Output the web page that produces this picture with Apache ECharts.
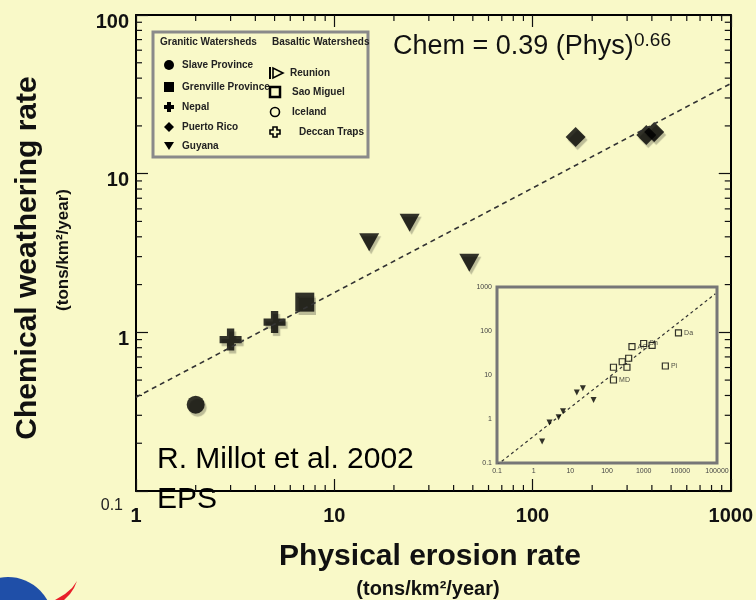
<!DOCTYPE html>
<html><head><meta charset="utf-8">
<script src="https://cdn.jsdelivr.net/npm/echarts@6/dist/echarts.min.js"></script>
<style>html,body{margin:0;padding:0;background:#F9F9C8}#c{width:756px;height:600px}</style>
</head><body><div id="c"></div>
<script>
const BG = '#F9F9C8';
const FONT = '"Liberation Sans", Arial, Helvetica, sans-serif';

// ---- main panel data: [physical erosion, chemical weathering] (tons/km2/yr)
const slaveProvince     = [[2.0, 0.35]];
const grenvilleProvince = [[7.1, 1.55]];
const nepal             = [[3.0, 0.90], [5.0, 1.16]];
const puertoRico        = [[165, 17.0], [375, 17.5], [411, 18.3]];
const guyana            = [[15, 3.7], [24, 4.9], [48, 2.75]];
const fitLine           = [[1, 0.39], [1000, 37]];

// ---- inset data
const insetGranitic = [[1.7, 0.31], [2.7, 0.83], [4.8, 1.1], [6.3, 1.5], [15, 4.0], [22, 5.0], [43, 2.7]];
const insetBasaltic = [[150, 7.7], [150, 15], [260, 20], [350, 15], [390, 24], [480, 44], [1000, 52], [1700, 47], [3900, 16], [8900, 91]];
const insetLabels   = ['MD', '', '', '', '', 'AG', 'Sh', '', 'Pi', 'Da'];
const insetFit      = [[0.1, 0.09], [90000, 700]];

// ---- axis ranges / tick decades
const xRange = [1, 1000];
const yRange = [0.1, 100];
const xDecades = [1, 10, 100];
const yDecades = [0.1, 1, 10];
const insetXRange = [0.1, 100000];
const insetYRange = [0.1, 1000];

// ---- legend entries
const graniticNames = ['Slave Province', 'Grenville Province', 'Nepal', 'Puerto Rico', 'Guyana'];
const basalticNames = ['Reunion', 'Sao Miguel', 'Iceland', 'Deccan Traps'];

function minorVals(decades) {
  const out = [];
  decades.forEach(d => { for (let m = 2; m <= 9; m++) out.push(+(d * m).toPrecision(6)); });
  return out;
}
const minorX = minorVals(xDecades).map(v => [v, 1]);
const minorY = minorVals(yDecades).map(v => [1, v]);
const fmt = v => String(+(+v).toPrecision(6));

const tickStyle = { stroke: '#111', lineWidth: 1.2 };
function minorTickX(params, api) {
  const cs = params.coordSys;
  const px = api.coord([api.value(0), api.value(1)])[0];
  const b = cs.y + cs.height;
  return { type: 'group', children: [
    { type: 'line', shape: { x1: px, y1: b, x2: px, y2: b - 6 }, style: tickStyle },
    { type: 'line', shape: { x1: px, y1: cs.y, x2: px, y2: cs.y + 6 }, style: tickStyle }
  ]};
}
function minorTickY(params, api) {
  const cs = params.coordSys;
  const py = api.coord([api.value(0), api.value(1)])[1];
  const r = cs.x + cs.width;
  return { type: 'group', children: [
    { type: 'line', shape: { x1: cs.x, y1: py, x2: cs.x + 6, y2: py }, style: tickStyle },
    { type: 'line', shape: { x1: r, y1: py, x2: r - 6, y2: py }, style: tickStyle }
  ]};
}

const shadow = { shadowColor: 'rgba(0,0,0,0.3)', shadowOffsetX: 2, shadowOffsetY: 3, shadowBlur: 1 };
const crossPath = 'path://M-1,-3L1,-3L1,-1L3,-1L3,1L1,1L1,3L-1,3L-1,1L-3,1L-3,-1L-1,-1Z';
const black = Object.assign({ color: '#000' }, shadow);

const mainAxisLine = { show: true, lineStyle: { color: '#000', width: 2 } };
const mainTick = { show: true, inside: true, length: 12, lineStyle: { color: '#111', width: 1.2 } };
const tShadow = { textShadowColor: 'rgba(0,0,0,0.3)', textShadowOffsetX: 1, textShadowOffsetY: 2 };

function legendGraphics() {
  const g = [];
  g.push({ type: 'rect', shape: { x: 153, y: 32, width: 215, height: 125 },
    style: { fill: BG, stroke: '#8a8a8a', lineWidth: 3 }, z: 50 });
  const tstyle = (x, y, t) => ({ type: 'text', x: x, y: y, z: 52,
    style: { text: t, font: 'bold 10px ' + FONT, fill: '#222', verticalAlign: 'middle',
      textShadowColor: 'rgba(0,0,0,0.25)', textShadowOffsetX: 1, textShadowOffsetY: 1 } });
  g.push(tstyle(160, 42, 'Granitic Watersheds'));
  g.push(tstyle(272, 42, 'Basaltic Watersheds'));
  const gy = [65, 87, 107, 127, 146];
  graniticNames.forEach((n, i) => g.push(tstyle(182, gy[i], n)));
  const by = [73, 92, 112, 132];
  const bx = [290, 292, 292, 299];
  basalticNames.forEach((n, i) => g.push(tstyle(bx[i], by[i], n)));
  const f = { fill: '#000' };
  g.push({ type: 'circle', shape: { cx: 169, cy: 65, r: 5 }, style: f, z: 52 });
  g.push({ type: 'rect', shape: { x: 164, y: 82, width: 10, height: 10 }, style: f, z: 52 });
  g.push({ type: 'polygon', shape: { points: [[167,102],[171,102],[171,105],[174,105],[174,109],[171,109],[171,112],[167,112],[167,109],[164,109],[164,105],[167,105]] }, style: f, z: 52 });
  g.push({ type: 'polygon', shape: { points: [[169,122],[174,127],[169,132],[164,127]] }, style: f, z: 52 });
  g.push({ type: 'polygon', shape: { points: [[164,142],[174,142],[169,150]] }, style: f, z: 52 });
  const o = { fill: BG, stroke: '#000', lineWidth: 1.6 };
  g.push({ type: 'polygon', shape: { points: [[273,68],[273,78],[283,73]] }, style: o, z: 52 });
  g.push({ type: 'line', shape: { x1: 270, y1: 67, x2: 270, y2: 79 }, style: { stroke: '#000', lineWidth: 2 }, z: 52 });
  g.push({ type: 'rect', shape: { x: 270, y: 87, width: 10, height: 10 }, style: { fill: BG, stroke: '#000', lineWidth: 2.5 }, z: 52 });
  g.push({ type: 'circle', shape: { cx: 275, cy: 112, r: 4.5 }, style: o, z: 52 });
  g.push({ type: 'polygon', shape: { points: [[273,127],[277,127],[277,130],[280,130],[280,134],[277,134],[277,137],[273,137],[273,134],[270,134],[270,130],[273,130]] }, style: o, z: 52 });
  return g;
}

const option = {
  backgroundColor: BG,
  animation: false,
  grid: [
    { left: 136, right: 22, top: 15, bottom: 109, containLabel: false, show: false },
    { left: 497, top: 287, width: 220, height: 176, containLabel: false,
      show: true, backgroundColor: BG, borderColor: '#777', borderWidth: 3, z: 5 }
  ],
  xAxis: [
    { type: 'log', logBase: 10, gridIndex: 0, min: xRange[0], max: xRange[1], position: 'bottom',
      axisLine: mainAxisLine, axisTick: mainTick, splitLine: { show: false },
      axisLabel: Object.assign({ formatter: fmt, fontFamily: FONT, fontSize: 20, fontWeight: 'bold', color: '#111', margin: 15,
        showMinLabel: true, showMaxLabel: true }, tShadow) },
    { type: 'log', logBase: 10, gridIndex: 0, min: xRange[0], max: xRange[1], position: 'top',
      axisLine: mainAxisLine, axisTick: mainTick, axisLabel: { show: false }, splitLine: { show: false } },
    { type: 'log', logBase: 10, gridIndex: 1, min: insetXRange[0], max: insetXRange[1], position: 'bottom',
      axisLine: { show: false }, splitLine: { show: false },
      axisTick: { show: true, inside: true, length: 4, lineStyle: { color: '#444' } },
      axisLabel: { formatter: fmt, fontFamily: FONT, fontSize: 7, color: '#444', margin: 5, showMinLabel: true, showMaxLabel: true } }
  ],
  yAxis: [
    { type: 'log', logBase: 10, gridIndex: 0, min: yRange[0], max: yRange[1], position: 'left',
      axisLine: mainAxisLine, axisTick: mainTick, splitLine: { show: false },
      axisLabel: {
        formatter: v => Math.abs(v - 0.1) < 1e-9 ? '{s|0.1}' : '{b|' + fmt(v) + '}',
        margin: 7, showMinLabel: true, showMaxLabel: true,
        rich: {
          b: Object.assign({ fontFamily: FONT, fontSize: 20, fontWeight: 'bold', color: '#111', padding: [14, 0, 0, 0] }, tShadow),
          s: Object.assign({ fontFamily: FONT, fontSize: 16, color: '#222', padding: [30, 6, 0, 0] }, tShadow)
        } } },
    { type: 'log', logBase: 10, gridIndex: 0, min: yRange[0], max: yRange[1], position: 'right',
      axisLine: mainAxisLine, axisTick: mainTick, axisLabel: { show: false }, splitLine: { show: false } },
    { type: 'log', logBase: 10, gridIndex: 1, min: insetYRange[0], max: insetYRange[1], position: 'left',
      axisLine: { show: false }, splitLine: { show: false },
      axisTick: { show: true, inside: true, length: 4, lineStyle: { color: '#444' } },
      axisLabel: { formatter: fmt, fontFamily: FONT, fontSize: 7, color: '#444', margin: 5, showMinLabel: true, showMaxLabel: true } }
  ],
  series: [
    { type: 'custom', xAxisIndex: 0, yAxisIndex: 0, data: minorX, renderItem: minorTickX, silent: true, clip: false },
    { type: 'custom', xAxisIndex: 0, yAxisIndex: 0, data: minorY, renderItem: minorTickY, silent: true, clip: false },
    { type: 'line', name: 'fit', xAxisIndex: 0, yAxisIndex: 0, data: fitLine, symbol: 'none', silent: true,
      lineStyle: { color: '#333', width: 1.6, type: [5, 4] } },
    { type: 'scatter', name: 'Slave Province', xAxisIndex: 0, yAxisIndex: 0, data: slaveProvince,
      symbol: 'circle', symbolSize: 18, itemStyle: black },
    { type: 'scatter', name: 'Grenville Province', xAxisIndex: 0, yAxisIndex: 0, data: grenvilleProvince,
      symbol: 'rect', symbolSize: 19, itemStyle: black },
    { type: 'scatter', name: 'Nepal', xAxisIndex: 0, yAxisIndex: 0, data: nepal,
      symbol: crossPath, symbolSize: 22, itemStyle: black },
    { type: 'scatter', name: 'Puerto Rico', xAxisIndex: 0, yAxisIndex: 0, data: puertoRico,
      symbol: 'diamond', symbolSize: 20, itemStyle: black },
    { type: 'scatter', name: 'Guyana', xAxisIndex: 0, yAxisIndex: 0, data: guyana,
      symbol: 'triangle', symbolRotate: 180, symbolSize: [20, 18], itemStyle: black },
    // inset
    { type: 'line', name: 'inset fit', xAxisIndex: 2, yAxisIndex: 2, data: insetFit, symbol: 'none', silent: true, z: 6,
      lineStyle: { color: '#333', width: 1.2, type: [3, 3] } },
    { type: 'scatter', name: 'inset granitic', xAxisIndex: 2, yAxisIndex: 2, data: insetGranitic, z: 7,
      symbol: 'triangle', symbolRotate: 180, symbolSize: 6, itemStyle: { color: '#000' } },
    { type: 'scatter', name: 'inset basaltic', xAxisIndex: 2, yAxisIndex: 2, z: 7,
      data: insetBasaltic.map((p, i) => ({ value: p, name: insetLabels[i] })),
      symbol: 'rect', symbolSize: 6, itemStyle: { color: BG, borderColor: '#000', borderWidth: 1.2 },
      label: { show: true, position: 'right', distance: 2, formatter: p => p.name, fontFamily: FONT, fontSize: 7, color: '#222' } }
  ],
  graphic: [].concat(legendGraphics(), [
    { type: 'text', x: 393, y: 47, z: 60, style: Object.assign({ text: 'Chem = 0.39 (Phys)', font: '27px ' + FONT, fill: '#111',
      verticalAlign: 'middle' }, tShadow) },
    { type: 'text', x: 634, y: 41, z: 60, style: Object.assign({ text: '0.66', font: '19px ' + FONT, fill: '#111',
      verticalAlign: 'middle' }, tShadow) },
    { type: 'text', x: 157, y: 460, z: 60, style: { text: 'R. Millot et al. 2002', font: '30px ' + FONT, fill: '#000', verticalAlign: 'middle' } },
    { type: 'text', x: 157, y: 500, z: 60, style: { text: 'EPS', font: '30px ' + FONT, fill: '#000', verticalAlign: 'middle' } },
    { type: 'text', x: 430, y: 557, z: 60, style: Object.assign({ text: 'Physical erosion rate', font: 'bold 30px ' + FONT, fill: '#111',
      align: 'center', verticalAlign: 'middle' }, tShadow) },
    { type: 'text', x: 428, y: 589, z: 60, style: Object.assign({ text: '(tons/km²/year)', font: 'bold 20px ' + FONT, fill: '#111',
      align: 'center', verticalAlign: 'middle' }, tShadow) },
    { type: 'text', x: 28, y: 258, rotation: Math.PI / 2, z: 60, style: Object.assign({ text: 'Chemical weathering rate', font: 'bold 30px ' + FONT, fill: '#111',
      align: 'center', verticalAlign: 'middle' }, tShadow) },
    { type: 'text', x: 63, y: 250, rotation: Math.PI / 2, z: 60, style: Object.assign({ text: '(tons/km²/year)', font: 'bold 17px ' + FONT, fill: '#111',
      align: 'center', verticalAlign: 'middle' }, tShadow) },
    { type: 'circle', z: 60, shape: { cx: 8, cy: 622, r: 45 }, style: { fill: '#1F4FA8' } },
    { type: 'polygon', z: 60, shape: { points: [[77,581],[72,588],[65,594],[55,600],[64,600],[70,594],[74,588]] }, style: { fill: '#E8202A' } }
  ])
};

const chart = echarts.init(document.getElementById('c'), null, { renderer: 'canvas' });
chart.setOption(option);
</script>
</body></html>
